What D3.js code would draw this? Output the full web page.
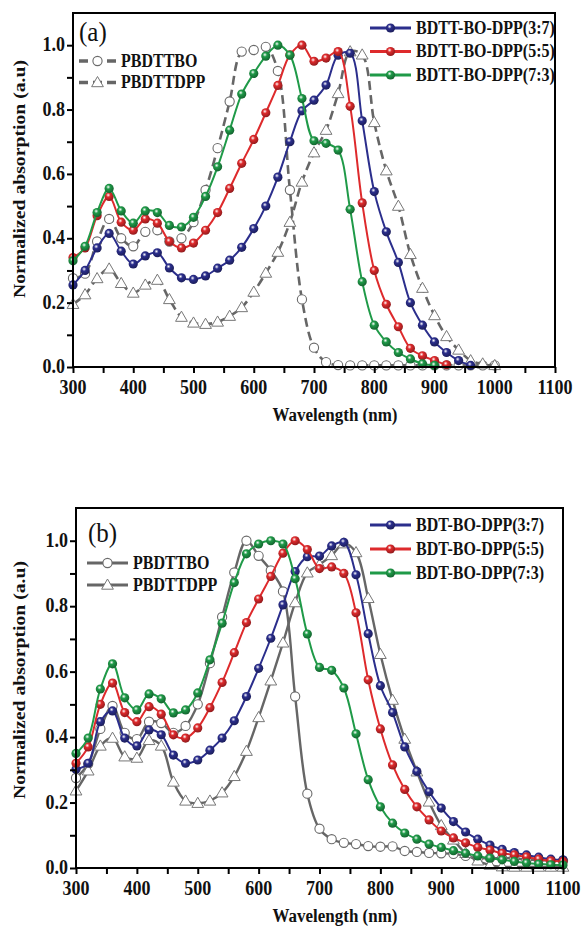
<!DOCTYPE html>
<html>
<head>
<meta charset="utf-8">
<script src="https://cdn.jsdelivr.net/npm/d3@7"></script>
<style>
  body { margin: 0; background: #fff; }
  svg text { font-family: "Liberation Serif", "Times New Roman", serif; fill: #111; }
</style>
</head>
<body>
<div id="vis"></div>
<script>
// wavelengths (nm)
var wlA = d3.range(300, 1001, 20);
var wlB = d3.range(300, 1101, 20);

// panel (a)
var aBO  = [0.276,0.29,0.39,0.46,0.40,0.375,0.42,0.425,0.39,0.40,0.45,0.55,0.68,0.825,0.98,0.985,0.995,0.92,0.55,0.21,0.06,0.015,0.006,0.005,0.005,0.005,0.005,0.005,0.005,0.005,0.005,0.005,0.005,0.005,0.005,0.005];
var aDPP = [0.195,0.225,0.275,0.305,0.26,0.23,0.255,0.27,0.21,0.155,0.137,0.133,0.14,0.158,0.185,0.233,0.292,0.357,0.45,0.575,0.666,0.736,0.85,0.98,0.97,0.76,0.61,0.50,0.35,0.245,0.16,0.095,0.053,0.02,0.01,0.005];
var a37  = [0.255,0.30,0.37,0.415,0.36,0.32,0.345,0.355,0.308,0.277,0.272,0.283,0.307,0.332,0.372,0.43,0.50,0.59,0.70,0.796,0.829,0.876,0.969,0.975,0.765,0.545,0.42,0.325,0.20,0.13,0.078,0.045,0.02,0.005];
var a55  = [0.34,0.37,0.47,0.53,0.45,0.425,0.46,0.447,0.39,0.37,0.385,0.425,0.48,0.555,0.633,0.707,0.79,0.875,0.97,1.0,0.95,0.96,0.98,0.81,0.51,0.30,0.195,0.125,0.058,0.035,0.02,0.007];
var a73  = [0.33,0.375,0.48,0.555,0.485,0.447,0.485,0.48,0.44,0.435,0.465,0.53,0.622,0.736,0.848,0.912,0.966,1.0,0.969,0.834,0.703,0.695,0.674,0.49,0.265,0.13,0.078,0.045,0.025,0.01,0.005];

// panel (b)
var bBO  = [0.275,0.318,0.425,0.495,0.413,0.394,0.447,0.443,0.413,0.434,0.50,0.626,0.767,0.903,1.0,0.954,0.909,0.845,0.524,0.227,0.12,0.088,0.077,0.073,0.067,0.065,0.066,0.052,0.049,0.046,0.045,0.043,0.037,0.03,0.03,0.03,0.03,0.025,0.025,0.022,0.022];
var bDPP = [0.236,0.297,0.373,0.397,0.34,0.336,0.39,0.373,0.263,0.205,0.198,0.205,0.23,0.28,0.357,0.46,0.572,0.688,0.811,0.902,0.927,0.955,0.991,0.964,0.824,0.653,0.513,0.394,0.294,0.202,0.13,0.086,0.045,0.022,0.009,0.004,0.003,0.003,0.003,0.003,0.003];
var b37  = [0.302,0.32,0.447,0.48,0.397,0.373,0.422,0.407,0.345,0.32,0.33,0.36,0.397,0.45,0.524,0.61,0.702,0.804,0.906,0.951,0.953,0.984,0.995,0.896,0.716,0.557,0.475,0.37,0.295,0.233,0.183,0.142,0.11,0.088,0.07,0.057,0.047,0.04,0.033,0.027,0.025];
var b55  = [0.32,0.37,0.50,0.565,0.475,0.447,0.493,0.47,0.407,0.397,0.428,0.49,0.567,0.658,0.75,0.822,0.891,0.962,1.0,0.973,0.915,0.92,0.90,0.78,0.575,0.425,0.315,0.24,0.187,0.147,0.113,0.092,0.077,0.063,0.055,0.045,0.04,0.034,0.027,0.022,0.02];
var b73  = [0.35,0.397,0.547,0.624,0.52,0.483,0.532,0.517,0.474,0.483,0.535,0.636,0.748,0.872,0.96,0.99,1.0,0.99,0.884,0.715,0.613,0.604,0.55,0.41,0.27,0.187,0.137,0.107,0.088,0.073,0.063,0.053,0.045,0.037,0.03,0.025,0.02,0.015,0.012,0.01,0.009];

var xTicks = [300,400,500,600,700,800,900,1000,1100];
var yTicks = [0,0.2,0.4,0.6,0.8,1.0];

var blue = "#2b2e8c", red = "#de2a2c", green = "#1f9a48", gray = "#666666";

var svg = d3.select("#vis").append("svg")
  .attr("width", 581).attr("height", 928);

// sphere gradients for the filled markers
var defs = svg.append("defs");
[["gBlue", blue], ["gRed", red], ["gGreen", green]].forEach(function (g) {
  var rg = defs.append("radialGradient").attr("id", g[0])
    .attr("cx", "40%").attr("cy", "35%").attr("r", "65%");
  rg.append("stop").attr("offset", "0%").attr("stop-color", "#ffffff");
  rg.append("stop").attr("offset", "35%").attr("stop-color", g[1]);
  rg.append("stop").attr("offset", "100%").attr("stop-color", d3.color(g[1]).darker(1.2));
});

function txt(g, x, y, s, size, anchor, weight) {
  return g.append("text")
    .attr("transform", "translate(" + x + "," + y + ") scale(1,1.12)")
    .attr("text-anchor", anchor || "start")
    .style("font-size", size + "px")
    .style("font-weight", weight || "bold")
    .text(s);
}

function marker(g, kind, color, x, y) {
  if (kind == "ball") {
    g.append("circle").attr("cx", x).attr("cy", y).attr("r", 4.6)
      .attr("fill", "url(#" + color + ")");
  } else if (kind == "circle") {
    g.append("circle").attr("cx", x).attr("cy", y).attr("r", 4.6)
      .attr("fill", "#fff").attr("stroke", "#6a6a6a").attr("stroke-width", 1.1);
  } else {
    g.append("path").attr("d", d3.symbol().type(d3.symbolTriangle).size(60)())
      .attr("transform", "translate(" + x + "," + (y + 0.8) + ")")
      .attr("fill", "#fff").attr("stroke", "#777").attr("stroke-width", 1);
  }
}

function panel(p) {
  var x = d3.scaleLinear().domain([300, 1100]).range([p.left, p.right]);
  var y = d3.scaleLinear().domain([0, 1.1]).range([p.bottom, p.top]);
  var g = svg.append("g");

  var line = d3.line()
    .x(function (d) { return x(d[0]); })
    .y(function (d) { return y(d[1]); })
    .curve(d3.curveCatmullRom.alpha(0.5));

  p.series.forEach(function (s) {
    var pts = s.values.map(function (v, i) { return [p.wl[i], v]; });
    g.append("path").attr("d", line(pts))
      .attr("fill", "none")
      .attr("stroke", s.stroke)
      .attr("stroke-width", s.width)
      .attr("stroke-dasharray", s.dash || null);
    var mg = g.append("g");
    pts.forEach(function (d) { marker(mg, s.kind, s.fill, x(d[0]), y(d[1])); });
  });

  // frame
  g.append("rect")
    .attr("x", p.left).attr("y", p.top)
    .attr("width", p.right - p.left).attr("height", p.bottom - p.top)
    .attr("fill", "none").attr("stroke", "#000").attr("stroke-width", 2);

  // x axis
  var xa = g.append("g").attr("transform", "translate(0," + p.bottom + ")")
    .call(d3.axisBottom(x).tickValues(d3.range(300, 1101, 50)).tickSize(6).tickFormat(""));
  xa.select(".domain").remove();
  xa.selectAll("line").attr("stroke", "#000").attr("stroke-width", 2);
  xTicks.forEach(function (t) { txt(g, x(t), p.bottom + 27, t, 18, "middle"); });

  // y axis
  var ya = g.append("g").attr("transform", "translate(" + p.left + ",0)")
    .call(d3.axisLeft(y).tickValues(d3.range(0, 1.05, 0.1)).tickSize(6).tickFormat(""));
  ya.select(".domain").remove();
  ya.selectAll("line").attr("stroke", "#000").attr("stroke-width", 2);
  yTicks.forEach(function (t) { txt(g, p.left - 8, y(t) + 6, d3.format(".1f")(t), 18, "end"); });

  txt(g, 335, p.bottom + 54, "Wavelength (nm)", 17, "middle");
  g.append("text")
    .attr("transform", "translate(25," + (p.bottom - 188) + ") rotate(-90)")
    .attr("text-anchor", "middle")
    .attr("textLength", 238).attr("lengthAdjust", "spacingAndGlyphs")
    .style("font-size", "17px").style("font-weight", "bold")
    .text("Normalized absorption (a.u)");

  txt(g, p.labX, p.labY, p.label, 25, "start", "normal");

  // legends
  p.legend.forEach(function (L) {
    L.rows.forEach(function (r, i) {
      var s = p.series[r.idx];
      var yy = L.y0 + i * L.dy;
      g.append("line").attr("x1", L.x1).attr("x2", L.x2).attr("y1", yy).attr("y2", yy)
        .attr("stroke", s.stroke).attr("stroke-width", s.width + 0.8)
        .attr("stroke-dasharray", s.dash || null);
      marker(g, s.kind, s.fill, (L.x1 + L.x2) / 2, yy);
      txt(g, L.x2 + 5, yy + 5.5, r.name, 16, "start");
    });
  });
}

panel({
  left: 73, right: 555, top: 13, bottom: 367, wl: wlA,
  label: "(a)", labX: 79, labY: 41,
  series: [
    { values: aBO,  stroke: gray, width: 2.6, dash: "9,5", kind: "circle" },
    { values: aDPP, stroke: gray, width: 2.6, dash: "9,5", kind: "tri" },
    { values: a37,  stroke: blue,  width: 2, kind: "ball", fill: "gBlue" },
    { values: a55,  stroke: red,   width: 2, kind: "ball", fill: "gRed" },
    { values: a73,  stroke: green, width: 2, kind: "ball", fill: "gGreen" }
  ],
  legend: [
    { x1: 79, x2: 116, y0: 61, dy: 21.5, rows: [{ idx: 0, name: "PBDTTBO" }, { idx: 1, name: "PBDTTDPP" }] },
    { x1: 370, x2: 411, y0: 28, dy: 23.5, rows: [{ idx: 2, name: "BDTT-BO-DPP(3:7)" }, { idx: 3, name: "BDTT-BO-DPP(5:5)" }, { idx: 4, name: "BDTT-BO-DPP(7:3)" }] }
  ]
});

panel({
  left: 76, right: 563, top: 508, bottom: 868, wl: wlB,
  label: "(b)", labX: 88, labY: 542,
  series: [
    { values: bBO,  stroke: gray, width: 2.4, kind: "circle" },
    { values: bDPP, stroke: gray, width: 2.4, kind: "tri" },
    { values: b37,  stroke: blue,  width: 2, kind: "ball", fill: "gBlue" },
    { values: b55,  stroke: red,   width: 2, kind: "ball", fill: "gRed" },
    { values: b73,  stroke: green, width: 2, kind: "ball", fill: "gGreen" }
  ],
  legend: [
    { x1: 87, x2: 128, y0: 563, dy: 22, rows: [{ idx: 0, name: "PBDTTBO" }, { idx: 1, name: "PBDTTDPP" }] },
    { x1: 370, x2: 411, y0: 525, dy: 24, rows: [{ idx: 2, name: "BDT-BO-DPP(3:7)" }, { idx: 3, name: "BDT-BO-DPP(5:5)" }, { idx: 4, name: "BDT-BO-DPP(7:3)" }] }
  ]
});
</script>
</body>
</html>
